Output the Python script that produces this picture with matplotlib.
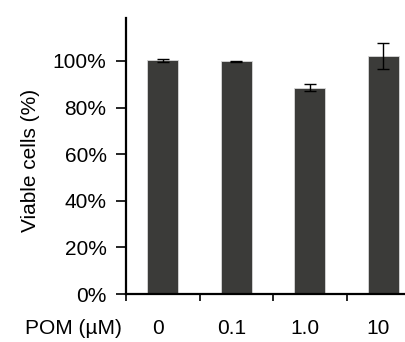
import matplotlib
matplotlib.use("Agg")
import matplotlib.pyplot as plt
import matplotlib.transforms as mtransforms
from matplotlib.ticker import PercentFormatter

# data
doses = ["0", "0.1", "1.0", "10"]
viable = [100.3, 99.8, 88.6, 102.0]
errors = [0.7, 0.2, 1.3, 5.5]

plt.rcParams["font.family"] = ["Liberation Sans", "DejaVu Sans"]
plt.rcParams["font.size"] = 15

fig = plt.figure(figsize=(4.05, 3.42), dpi=100)
ax = fig.add_axes([126 / 405, 48 / 342, 294 / 405, 275.7 / 342])

pos = [i + 0.5 for i in range(len(doses))]
ax.bar(pos, viable, width=0.42, color="#3b3b39", edgecolor="#d8d8d8", linewidth=0.6,
       yerr=errors, capsize=4.5, error_kw=dict(elinewidth=1.0, capthick=1.0, ecolor="black"))

ax.set_xlim(0, 4)
ax.set_ylim(0, 118.3)
ax.set_yticks([0, 20, 40, 60, 80, 100])
ax.yaxis.set_major_formatter(PercentFormatter(decimals=0))

# category boundaries get tick marks, labels sit at the centres
ax.set_xticks([0, 1, 2, 3, 4])
ax.set_xticklabels([])
ax.set_xticks(pos, minor=True)
ax.set_xticklabels(doses, minor=True)
ax.tick_params(axis="x", which="major", direction="out", length=5, width=1.2)
ax.tick_params(axis="x", which="minor", length=0, pad=18)
ax.tick_params(axis="y", direction="out", length=7, width=1.2, pad=7)
shift = mtransforms.ScaledTranslation(-0.05, 0, fig.dpi_scale_trans)
for lbl in ax.get_xticklabels(minor=True):
    lbl.set_transform(lbl.get_transform() + shift)

for s in ["top", "right"]:
    ax.spines[s].set_visible(False)
for s in ["left", "bottom"]:
    ax.spines[s].set_linewidth(1.6)

fig.text(30 / 405, 1 - 160 / 342, "Viable cells (%)", rotation=90, ha="center", va="center")
fig.text(122 / 405, 1 - 328 / 342, "POM (µM)", ha="right", va="center")

fig.savefig("out.png", dpi=100)
